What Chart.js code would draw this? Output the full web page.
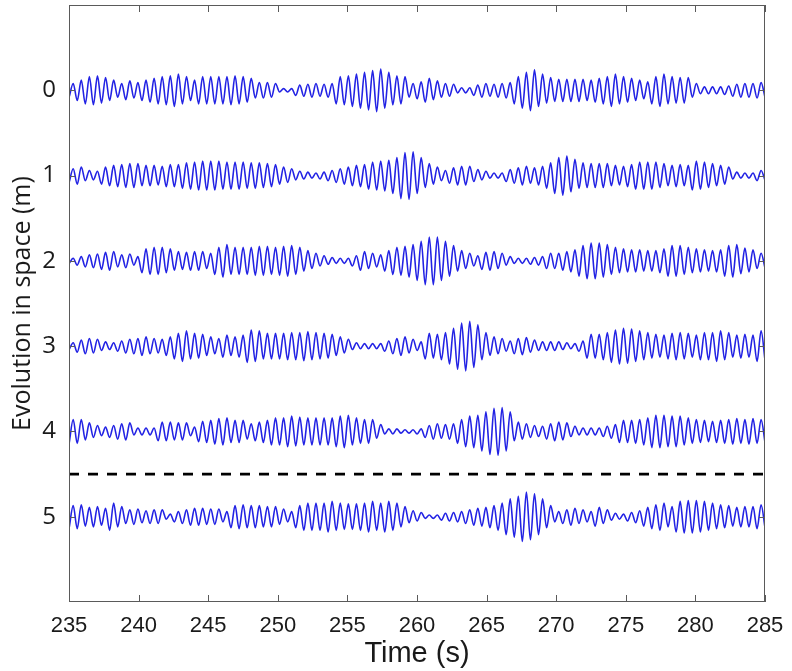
<!DOCTYPE html>
<html><head><meta charset="utf-8">
<script src="https://cdn.jsdelivr.net/npm/chart.js@4.4.1/dist/chart.umd.min.js"></script>
<style>html,body{margin:0;padding:0;background:#fff;}canvas{display:block}</style>
</head><body>
<canvas id="c" width="792" height="671"></canvas>
<script>
// ---- data ----
const positions = [0, 1, 2, 3, 4, 5];                 // trace baselines (m)
const xTicks = [235, 240, 245, 250, 255, 260, 265, 270, 275, 280, 285];
const dashedLevel = 4.5;
const cycleStart = 235.01;   // first trough (s)
const period = 0.5814;       // wave period (s)
// per-wave amplitude of each trace, in hundredths of a metre-step
const amp0 = [8,12,16,17,15,12,8,11,9,12, 14,16,17,19,16,12,16,16,16,16, 17,16,14,9,9,8,2,2,6,7,
              8,7,8,16,17,19,21,23,25,21, 17,16,8,10,14,11,8,7,3,3, 6,8,7,8,9,16,21,24,19,15,
              13,13,13,13,12,14,16,19,16,14, 12,10,16,19,16,15,15,8,4,4, 4,5,7,8,8,9];
const amp1 = [8,10,6,5,10,12,13,14,14,12, 12,11,13,13,15,16,17,17,17,16, 16,16,15,15,14,13,10,8,5,4,
              3,4,6,8,10,12,13,16,17,18, 21,27,28,21,14,10,6,9,11,11, 7,5,3,3,7,9,11,9,11,15,
              21,23,19,15,14,14,14,12,11,13, 16,16,16,14,12,13,12,17,16,14, 12,10,4,3,3,6];
const amp2 = [3,5,7,8,10,11,7,8,5,14, 16,16,14,11,10,11,11,9,16,19, 16,16,16,17,17,16,17,18,16,12,
              9,6,4,3,3,6,11,9,7,12, 16,17,19,23,28,28,23,18,12,9, 6,10,11,9,5,3,3,4,5,9,
              9,11,13,18,21,21,19,16,14,13, 13,12,12,14,18,18,16,14,13,12, 13,18,19,15,13,9];
const amp3 = [4,7,9,8,5,4,6,8,9,11, 9,8,11,15,18,15,14,11,9,13, 11,13,19,18,15,15,15,16,16,17,
              16,15,14,11,8,4,3,3,3,6, 9,11,8,5,15,14,16,21,27,29, 25,16,11,9,6,9,10,7,5,5,
              5,4,3,6,14,14,16,19,21,20, 18,16,14,13,15,16,15,13,16,16, 18,16,13,14,13,18];
const amp4 = [14,14,10,7,5,7,9,10,4,4, 4,11,11,10,10,5,12,13,15,16, 13,13,9,11,13,16,16,18,17,16,
              16,16,16,18,19,16,14,14,8,3, 3,2,2,3,7,9,8,9,14,18, 19,23,27,28,23,11,9,7,6,9,
              11,10,6,4,4,4,6,8,13,13, 14,16,19,19,18,18,16,14,13,12, 13,14,15,14,15,14];
const amp5 = [13,14,11,12,10,16,12,8,9,7, 8,8,3,6,8,10,10,9,9,6, 13,14,13,13,12,12,9,6,13,16,
              16,16,18,16,15,15,16,18,16,18, 16,12,7,5,2,2,4,5,6,8, 10,11,13,16,21,24,29,27,21,13,
              6,8,10,8,6,11,8,4,3,5, 7,11,14,16,12,18,19,19,18,16, 14,13,11,12,12,14];
const amps = [amp0, amp1, amp2, amp3, amp4, amp5];

function buildTrace(base, a) {
  const pts = [];
  a.forEach((v, i) => {
    const t = cycleStart + i * period;
    pts.push({x: t, y: base + v / 100});              // trough (axis reversed)
    pts.push({x: t + period / 2, y: base - v / 100});  // crest
  });
  pts.push({x: cycleStart + a.length * period, y: base + a[a.length - 1] / 100});
  return pts;
}

const waveColor = '#2222e4';
const datasets = positions.map((p, k) => ({
  data: buildTrace(p, amps[k]),
  borderColor: waveColor, borderWidth: 1.6,
  cubicInterpolationMode: 'monotone', pointRadius: 0, fill: false
}));
datasets.push({
  data: [{x: xTicks[0], y: dashedLevel}, {x: xTicks[xTicks.length - 1], y: dashedLevel}],
  borderColor: '#000', borderWidth: 2.8, borderDash: [10, 9], pointRadius: 0, fill: false
});

const boxPlugin = {
  id: 'box',
  afterDraw(chart) {
    const {ctx, chartArea: a, scales: {x, y}} = chart;
    ctx.save();
    ctx.strokeStyle = '#5a5a5a'; ctx.lineWidth = 1;
    ctx.strokeRect(a.left + 0.5, a.top + 0.5, a.right - a.left - 1, a.bottom - a.top - 1);
    ctx.beginPath();
    xTicks.forEach(v => {
      const px = Math.round(x.getPixelForValue(v)) + 0.5;
      ctx.moveTo(px, a.bottom); ctx.lineTo(px, a.bottom - 7);
      ctx.moveTo(px, a.top); ctx.lineTo(px, a.top + 7);
    });
    positions.forEach(v => {
      const py = Math.round(y.getPixelForValue(v)) + 0.5;
      ctx.moveTo(a.left, py); ctx.lineTo(a.left + 6, py);
      ctx.moveTo(a.right, py); ctx.lineTo(a.right - 6, py);
    });
    ctx.stroke();
    ctx.restore();
  }
};

const sans = "'Liberation Sans', Arial, sans-serif";
const open = "'Open Sans', 'Noto Sans', sans-serif";
new Chart(document.getElementById('c'), {
  type: 'line',
  data: {datasets},
  options: {
    responsive: false, animation: false, devicePixelRatio: 1,
    layout: {padding: {left: 0, right: 27, top: 5, bottom: 0}},
    plugins: {legend: {display: false}, tooltip: {enabled: false}},
    scales: {
      x: {
        type: 'linear', min: xTicks[0], max: xTicks[xTicks.length - 1],
        afterBuildTicks: s => { s.ticks = xTicks.map(v => ({value: v})); },
        grid: {display: false, drawTicks: false}, border: {display: false},
        ticks: {padding: 11, color: '#1a1a1a', maxRotation: 0, autoSkip: false,
                font: {family: sans, size: 22}},
        title: {display: true, text: 'Time (s)', color: '#1a1a1a',
                font: {family: sans, size: 29}, padding: {top: 0, bottom: 0}},
        afterFit: s => { s.height = 69; s.paddingLeft = 0; s.paddingRight = 0; }
      },
      y: {
        type: 'linear', min: -1, max: 6, reverse: true,
        afterBuildTicks: s => { s.ticks = positions.map(v => ({value: v})); },
        grid: {display: false, drawTicks: false}, border: {display: false},
        ticks: {padding: 13, color: '#1a1a1a', font: {family: open, size: 24}},
        title: {display: true, text: 'Evolution in space (m)', color: '#1a1a1a',
                font: {family: open, size: 25}, padding: {top: 8, bottom: 0}},
        afterFit: s => { s.width = 69; s.paddingTop = 0; s.paddingBottom = 0; }
      }
    }
  },
  plugins: [boxPlugin]
});
</script>
</body></html>
